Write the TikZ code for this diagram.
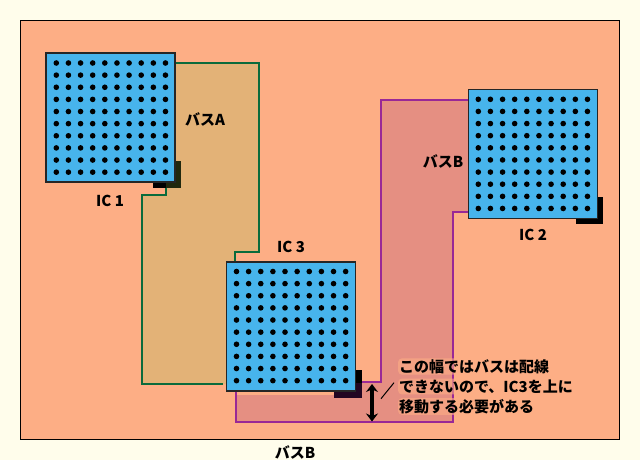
\documentclass[tikz,border=0pt]{standalone}
\usepackage{fontspec}
\newfontfamily\jpfont{Noto Sans CJK JP}
\usetikzlibrary{arrows.meta}
\definecolor{paper}{RGB}{255,253,235}
\definecolor{board}{RGB}{253,174,133}
\definecolor{busa}{RGB}{227,178,119}
\definecolor{busb}{RGB}{229,143,130}
\definecolor{busaline}{RGB}{10,107,60}
\definecolor{busbline}{RGB}{153,40,150}
\definecolor{chip}{RGB}{71,180,236}
\definecolor{shadea}{RGB}{32,40,14}
\definecolor{shadeb}{RGB}{34,6,34}
\tikzset{every picture/.style={line width=0.75pt}}
\tikzset{
  icbox/.style={draw=black!85,line width=1.1pt,fill=chip,minimum size=96.75pt,inner sep=0pt,outer sep=0pt},
  buslabel/.style={font=\jpfont\bfseries\fontsize{11.25}{15}\selectfont,inner sep=0.75pt},
  noteline/.style={buslabel,anchor=west,fill=board,fill opacity=0.6,text opacity=1,rounded corners=3pt},
  buswire/.style={line width=1.7pt},
  pin/.style={fill=black},
}
\newcommand{\icpins}[2]{%
  \foreach \i in {0,...,9} \foreach \j in {0,...,9}
    \fill [pin] (#1+\i*12.13,#2+\j*12.13) circle (2.8);
}
\begin{document}
\begin{tikzpicture}[x=0.75pt,y=0.75pt,yscale=-1]
\useasboundingbox (0,0) rectangle (640,460);
\fill [paper] (0,0) rectangle (640,460);
\draw [line width=1.1pt,fill=board] (20.5,20.5) rectangle (619.5,439.5);

%Bus A
\fill [busa] (170,63) -- (259,63) -- (259,252) -- (235,252) -- (235,270) -- (226,384) -- (142,384) -- (142,195) -- (166,195) -- (166,180) -- cycle;
\draw [buswire,draw=busaline] (175,63) -- (259,63) -- (259,252) -- (235,252) -- (235,262);
\draw [buswire,draw=busaline] (223,384) -- (142,384) -- (142,195) -- (166,195) -- (166,186);
%Bus B
\fill [busb] (468,100) -- (381,100) -- (381,382) -- (340,382) -- (340,395) -- (236,395) -- (236,422) -- (453,422) -- (453,212) -- (468,212) -- cycle;
\draw [buswire,draw=busbline] (468,100) -- (381,100) -- (381,382) -- (361,382);
\draw [buswire,draw=busbline] (236,391) -- (236,422) -- (453,422) -- (453,212) -- (468,212);

%Shadows
\fill [black] (153,160.7) rectangle (166,188.3);
\fill [shadea] (166,160.7) rectangle (181.3,188.3);
\fill [black] (575.7,196.7) rectangle (603.3,224.3);
\fill [black] (333.7,370) rectangle (361.7,383);
\fill [shadeb] (333.7,383) rectangle (361.7,397.7);

%Chips
\node (ic1) [icbox] at (110.5,117.5) {};
\node (ic2) [icbox] at (532.8,153.8) {};
\node (ic3) [icbox] at (291,326.5) {};
\icpins{56.3}{63}
\icpins{478.3}{99.3}
\icpins{236.5}{271.5}

% Text Node
\node (labelica) [buslabel] at (110,201) {IC 1};
\node (labelicb) [buslabel] at (533,235) {IC 2};
\node (labelicc) [buslabel] at (291,247) {IC 3};
\node (labelbusa) [buslabel] at (205,119) {バスA};
\node (labelbusb) [buslabel] at (443,161) {バスB};
\node (labelbusc) [buslabel] at (295,452) {バスB};
\node (notea) [noteline] at (397.5,366.5) {この幅ではバスは配線};
\node (noteb) [noteline] at (397.5,386.5) {できないので、IC3を上に};
\node (notec) [noteline] at (397.5,406.5) {移動する必要がある};

%Arrow and leader
\coordinate (gaptop) at (372,384);
\coordinate (gapbottom) at (372,421.5);
\coordinate (leaderfoot) at (381,398.7);
\coordinate (leaderhead) at (394,382.7);
\draw [{Stealth[length=6pt,width=9pt]}-{Stealth[length=6pt,width=9pt]},line width=2.6pt] (gaptop) -- (gapbottom);
\draw (leaderfoot) -- (leaderhead);
\end{tikzpicture}
\end{document}
